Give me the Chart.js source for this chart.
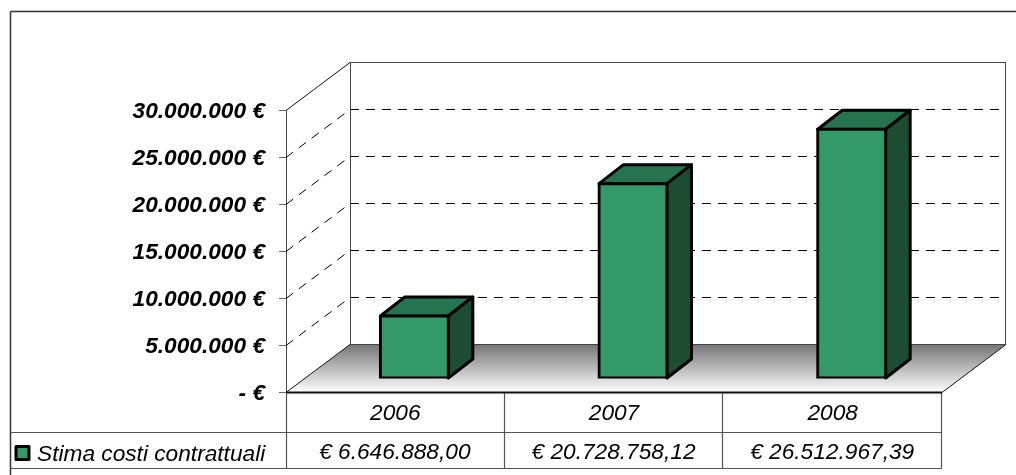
<!DOCTYPE html>
<html>
<head>
<meta charset="utf-8">
<title>Stima costi contrattuali</title>
<script src="https://cdn.jsdelivr.net/npm/chart.js@4"></script>
<style>
  html, body { margin: 0; padding: 0; background: #fff; }
  canvas { display: block; }
</style>
</head>
<body>
<canvas id="chart" width="1016" height="475"></canvas>
<script>
// chart values
const categories = ['2006', '2007', '2008'];
const seriesName = 'Stima costi contrattuali';
const seriesValues = [6646888.00, 20728758.12, 26512967.39];
const valueLabels = ['€ 6.646.888,00', '€ 20.728.758,12', '€ 26.512.967,39'];
const tickLabels = ['- €', '5.000.000 €', '10.000.000 €', '15.000.000 €', '20.000.000 €', '25.000.000 €', '30.000.000 €'];

// fake 3D look: how far the back wall sits behind the front plane, and the bars
const WALL_DX = 64, WALL_DY = -48;
const BAR_DX = 19, BAR_DY = -14;
const SIDE_DX = 24.5, SIDE_DY = -19;
const BAR_LINE = 3;

const FONT = '"Liberation Sans", Arial, sans-serif';

function line(ctx, x1, y1, x2, y2) {
  ctx.beginPath();
  ctx.moveTo(x1, y1);
  ctx.lineTo(x2, y2);
  ctx.stroke();
}

function poly(ctx, pts, fill, stroke, width) {
  ctx.beginPath();
  pts.forEach((p, i) => i ? ctx.lineTo(p[0], p[1]) : ctx.moveTo(p[0], p[1]));
  ctx.closePath();
  ctx.fillStyle = fill;
  ctx.fill();
  if (stroke) {
    ctx.strokeStyle = stroke;
    ctx.lineWidth = width;
    ctx.lineJoin = 'round';
    ctx.stroke();
  }
}

// walls, floor and the dashed grid, all placed from the y scale
const wallsPlugin = {
  id: 'walls',
  beforeDatasetsDraw(chart) {
    const { ctx, chartArea: a, scales: { y } } = chart;
    const bx = a.left + WALL_DX, bt = a.top + WALL_DY, bb = a.bottom + WALL_DY, br = a.right + WALL_DX;
    ctx.save();

    const grad = ctx.createLinearGradient(0, bb, 0, a.bottom);
    grad.addColorStop(0, '#767676');
    grad.addColorStop(1, '#ffffff');
    poly(ctx, [[a.left, a.bottom], [bx, bb], [br, bb], [a.right, a.bottom]], grad);

    ctx.strokeStyle = '#000';
    ctx.lineWidth = 1;
    ctx.setLineDash([9, 7]);
    y.ticks.forEach(t => {
      if (t.value === 0 || t.value === y.max) return;
      const py = y.getPixelForValue(t.value);
      line(ctx, a.left, py, bx, py + WALL_DY);
      line(ctx, bx, py + WALL_DY, br, py + WALL_DY);
    });
    ctx.setLineDash([]);

    // wall outlines
    ctx.strokeStyle = '#111';
    line(ctx, a.left, a.top, bx, bt);
    line(ctx, a.left, a.bottom, bx, bb);
    line(ctx, a.right, a.bottom, br, bb);
    ctx.strokeStyle = '#444';
    line(ctx, bx + 0.5, bt, bx + 0.5, bb);
    line(ctx, bx, bt, br, bt);
    line(ctx, br - 0.5, bt, br - 0.5, bb);
    line(ctx, bx, bb, br, bb);
    ctx.restore();

    // the native bars get drawn shifted back onto the floor
    const meta = chart.getDatasetMeta(0);
    ctx.save();
    ctx.translate(BAR_DX, BAR_DY);
    meta.data.forEach(bar => {
      const l = bar.x - bar.width / 2, r = bar.x + bar.width / 2;
      poly(ctx, [[l, bar.y], [l + SIDE_DX, bar.y + SIDE_DY], [r + SIDE_DX, bar.y + SIDE_DY], [r, bar.y]], '#267350', '#000', BAR_LINE);
      poly(ctx, [[r, bar.y], [r + SIDE_DX, bar.y + SIDE_DY], [r + SIDE_DX, bar.base + SIDE_DY], [r, bar.base]], '#1c4d33', '#000', BAR_LINE);
    });
  },
  afterDatasetsDraw(chart) {
    chart.ctx.restore();
  }
};

// frame, data table and legend key under the plot
const tablePlugin = {
  id: 'table',
  afterDraw(chart) {
    const { ctx, chartArea: a, scales: { x } } = chart;
    const rowTop = 432, rowBottom = 468, frameLeft = 10.5, frameTop = 11.5, frameRight = 1016;
    ctx.save();

    ctx.strokeStyle = '#333';
    ctx.lineWidth = 1.5;
    line(ctx, frameLeft, frameTop, frameRight, frameTop);
    line(ctx, frameLeft, frameTop, frameLeft, 475);

    ctx.strokeStyle = '#555';
    ctx.lineWidth = 1.2;
    line(ctx, frameLeft, rowTop + 0.5, a.right, rowTop + 0.5);
    line(ctx, frameLeft, rowBottom + 0.5, a.right, rowBottom + 0.5);
    const step = (a.right - a.left) / categories.length;
    for (let i = 0; i <= categories.length; i++) {
      const px = Math.round(a.left + step * i) - 0.5 + (i === 0 ? 1 : 0);
      line(ctx, px, a.bottom, px, rowBottom);
    }

    ctx.strokeStyle = '#111';
    ctx.lineWidth = 2;
    line(ctx, a.left, a.bottom, a.right, a.bottom);

    ctx.fillStyle = '#000';
    ctx.font = 'italic 22.7px ' + FONT;
    ctx.textBaseline = 'middle';
    ctx.textAlign = 'center';
    valueLabels.forEach((label, i) => ctx.fillText(label, x.getPixelForValue(i) - 0.5, 453));
    ctx.textAlign = 'left';
    ctx.fillText(seriesName, 37, 455);

    ctx.fillStyle = '#339966';
    ctx.strokeStyle = '#000';
    ctx.lineWidth = 3;
    ctx.lineJoin = 'round';
    ctx.fillRect(16, 446.5, 13, 13);
    ctx.strokeRect(16, 446.5, 13, 13);
    ctx.restore();
  }
};

new Chart(document.getElementById('chart'), {
  type: 'bar',
  data: {
    labels: categories,
    datasets: [{
      label: seriesName,
      data: seriesValues,
      backgroundColor: '#339966',
      borderColor: '#000',
      borderWidth: BAR_LINE,
      borderSkipped: false,
      inflateAmount: BAR_LINE / 2,
      barThickness: 68
    }]
  },
  options: {
    responsive: false,
    animation: false,
    layout: { padding: { top: 110.5, right: 74, bottom: 0, left: 0 } },
    plugins: { legend: { display: false }, title: { display: false }, tooltip: { enabled: false } },
    scales: {
      x: {
        afterFit: s => { s.height = 82.5; },
        grid: { display: false },
        border: { display: false },
        ticks: { color: '#000', padding: 0, font: { family: FONT, size: 22.7, style: 'italic' } }
      },
      y: {
        min: 0,
        max: 30000000,
        afterFit: s => { s.width = 286; },
        grid: { drawOnChartArea: false, drawTicks: true, tickLength: 7, color: '#666' },
        border: { color: '#444' },
        ticks: {
          stepSize: 5000000,
          color: '#000',
          padding: 14,
          // empty first line + tiny line height nudges the label down a bit
          font: { family: FONT, size: 22.7, style: 'italic', weight: 'bold', lineHeight: '3px' },
          callback: (v, i) => ['', tickLabels[i]]
        }
      }
    }
  },
  plugins: [wallsPlugin, tablePlugin]
});
</script>
</body>
</html>
